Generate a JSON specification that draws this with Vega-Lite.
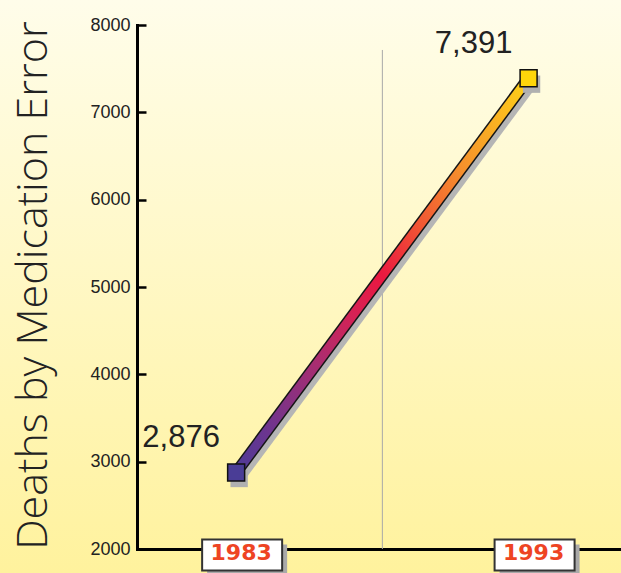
{
  "$schema": "https://vega.github.io/schema/vega-lite/v6.json",
  "width": 621,
  "height": 573,
  "autosize": {"type": "none"},
  "padding": 0,
  "config": {
    "font": "Liberation Sans",
    "view": {
      "stroke": null,
      "fill": {
        "gradient": "linear",
        "x1": 0, "y1": 0, "x2": 0, "y2": 1,
        "stops": [
          {"offset": 0, "color": "#fffdea"},
          {"offset": 1, "color": "#fff29d"}
        ]
      }
    }
  },
  "data": {
    "values": [
      {"year": 1983, "deaths": 2876},
      {"year": 1993, "deaths": 7391}
    ]
  },
  "encoding": {
    "x": {
      "field": "year",
      "type": "quantitative",
      "scale": {"domain": [1979.61, 1996.16], "range": [137, 621], "zero": false, "nice": false},
      "axis": {
        "orient": "bottom",
        "offset": -24,
        "domainColor": "#000",
        "domainWidth": 3,
        "domainCap": "square",
        "ticks": false,
        "labels": false,
        "grid": false,
        "title": null
      }
    },
    "y": {
      "field": "deaths",
      "type": "quantitative",
      "scale": {"domain": [2000, 8000], "range": [549, 25], "zero": false, "nice": false},
      "axis": {
        "orient": "left",
        "offset": -137,
        "values": [2000, 3000, 4000, 5000, 6000, 7000, 8000],
        "format": "d",
        "grid": false,
        "domainColor": "#000",
        "domainWidth": 3,
        "domainCap": "square",
        "tickColor": "#000",
        "tickWidth": 2.5,
        "tickSize": -9,
        "labelPadding": 16,
        "labelFontSize": 18,
        "labelColor": "#222",
        "title": "Deaths by Medication Error",
        "titleFont": "Open Sans",
        "titleFontSize": 43,
        "titleFontWeight": 300,
        "titleColor": "#222",
        "titleAngle": -90,
        "titleX": -91,
        "titleY": 285,
        "titleAlign": "center",
        "titleBaseline": "alphabetic"
      }
    }
  },
  "layer": [
    {
      "data": {"values": [{"year": 1988, "lo": 2000, "hi": 7714}]},
      "mark": {"type": "rule", "color": "#a8a8a8", "strokeWidth": 1},
      "encoding": {
        "y": {"field": "lo", "type": "quantitative"},
        "y2": {"field": "hi"}
      }
    },
    {
      "mark": {"type": "line", "color": "#b5b5b5", "strokeWidth": 12, "strokeCap": "butt", "xOffset": 3, "yOffset": 5}
    },
    {
      "mark": {"type": "line", "color": "#151515", "strokeWidth": 12, "strokeCap": "butt"}
    },
    {
      "mark": {
        "type": "line",
        "strokeWidth": 9,
        "strokeCap": "butt",
        "stroke": {
          "gradient": "linear",
          "x1": 0, "y1": 1, "x2": 1, "y2": 0,
          "stops": [
            {"offset": 0, "color": "#4e3b96"},
            {"offset": 0.1, "color": "#6a3590"},
            {"offset": 0.29, "color": "#ae2c6e"},
            {"offset": 0.4, "color": "#d52255"},
            {"offset": 0.5, "color": "#ea1840"},
            {"offset": 0.62, "color": "#f15334"},
            {"offset": 0.77, "color": "#f5902c"},
            {"offset": 0.9, "color": "#fbb521"},
            {"offset": 1, "color": "#fdd317"}
          ]
        }
      }
    },
    {
      "mark": {"type": "point", "shape": "square", "filled": true, "size": 300, "color": "#b0b0b0", "opacity": 1, "xOffset": 3, "yOffset": 6}
    },
    {
      "mark": {"type": "point", "shape": "square", "filled": true, "size": 289, "stroke": "#111", "strokeWidth": 1.5, "opacity": 1},
      "encoding": {
        "fill": {"field": "year", "type": "nominal", "scale": {"range": ["#4a3d96", "#ffd60a"]}, "legend": null}
      }
    },
    {
      "mark": {"type": "text", "align": "center", "baseline": "alphabetic", "dx": -55, "dy": -25, "fontSize": 31, "color": "#222"},
      "encoding": {
        "text": {"field": "deaths", "type": "quantitative", "format": ","}
      }
    },
    {
      "mark": {"type": "point", "shape": "M-1,-0.3875H1V0.3875H-1Z", "filled": true, "size": 6400, "color": "#a9a9a9", "opacity": 1, "xOffset": 11, "yOffset": 11},
      "encoding": {"y": {"datum": 2000}}
    },
    {
      "mark": {"type": "point", "shape": "M-1,-0.3875H1V0.3875H-1Z", "filled": true, "size": 6400, "fill": "#ffffff", "stroke": "#333", "strokeWidth": 2, "opacity": 1, "xOffset": 6, "yOffset": 6},
      "encoding": {"y": {"datum": 2000}}
    },
    {
      "mark": {"type": "text", "align": "center", "baseline": "alphabetic", "dx": 5, "dy": 11, "font": "DejaVu Sans", "fontWeight": "bold", "fontSize": 22, "color": "#ee4423"},
      "encoding": {
        "y": {"datum": 2000},
        "text": {"field": "year", "type": "nominal"}
      }
    }
  ]
}
